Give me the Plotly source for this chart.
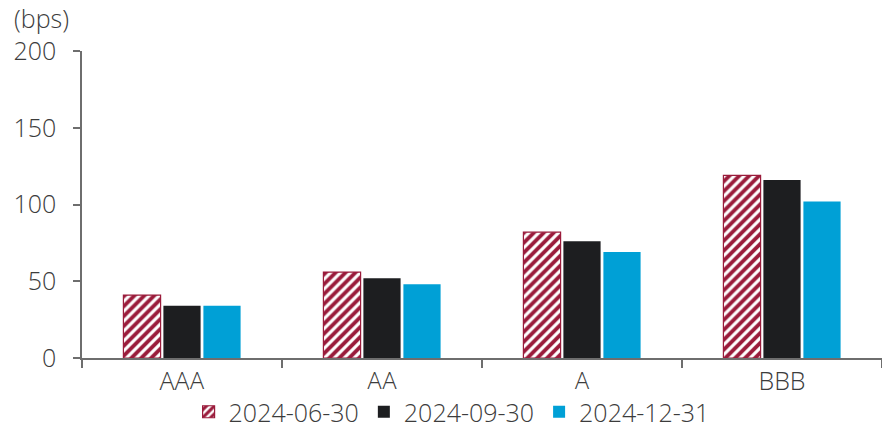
import plotly.graph_objects as go

# Credit spread by rating bucket (bps)
ratings = ["AAA", "AA", "A", "BBB"]
dates = ["2024-06-30", "2024-09-30", "2024-12-31"]
spread_jun = [41, 56, 82, 119]
spread_sep = [34, 52, 76, 116]
spread_dec = [34, 48, 69, 102]
y_ticks = [0, 50, 100, 150, 200]

RED = "#9a1b3b"
BLACK = "#1d1e20"
BLUE = "#00a0d6"
TEXT = "#3c3c3c"
AXIS = "#6e6e6e"
FONT = "'Open Sans', sans-serif"
FS = 25

fig = go.Figure()
fig.add_trace(go.Bar(
    x=ratings, y=spread_jun, name=dates[0],
    marker=dict(color="white",
                line=dict(color=RED, width=1.2),
                pattern=dict(shape="/", fgcolor=RED, bgcolor="white",
                             fgopacity=1, size=7, solidity=0.55,
                             fillmode="overlay")),
))
fig.add_trace(go.Bar(
    x=ratings, y=spread_sep, name=dates[1],
    marker=dict(color=BLACK, line=dict(width=0)),
))
fig.add_trace(go.Bar(
    x=ratings, y=spread_dec, name=dates[2],
    marker=dict(color=BLUE, line=dict(width=0)),
))

fig.update_layout(
    width=882, height=435,
    margin=dict(l=82, r=0, t=51, b=77, autoexpand=False),
    paper_bgcolor="white", plot_bgcolor="white",
    barmode="group", bargap=0.4, bargroupgap=0.07,
    font=dict(family=FONT, size=FS, color=TEXT, weight=300),
    showlegend=True,
    legend=dict(orientation="h", x=0.462, xanchor="center",
                yref="container", y=-0.008, yanchor="bottom",
                font=dict(size=FS, color=TEXT, weight=300),
                traceorder="normal"),
    xaxis=dict(showline=True, linecolor=AXIS, linewidth=1.5,
               ticks="outside", tickson="boundaries", ticklen=8,
               tickcolor=AXIS, tickwidth=1.5, showgrid=False),
    yaxis=dict(range=[0, 200], tickvals=y_ticks, showline=True,
               linecolor=AXIS, linewidth=1.5, ticks="outside", ticklen=7,
               tickcolor=AXIS, tickwidth=1.5, showgrid=False, zeroline=False,
               ticklabelstandoff=12),
    annotations=[dict(text="(bps)", xref="paper", yref="paper",
                      x=-0.088, y=1.0, yshift=33, xanchor="left",
                      yanchor="middle", showarrow=False,
                      font=dict(size=FS, color=TEXT, weight=300))],
)

fig.write_html("out.html")
